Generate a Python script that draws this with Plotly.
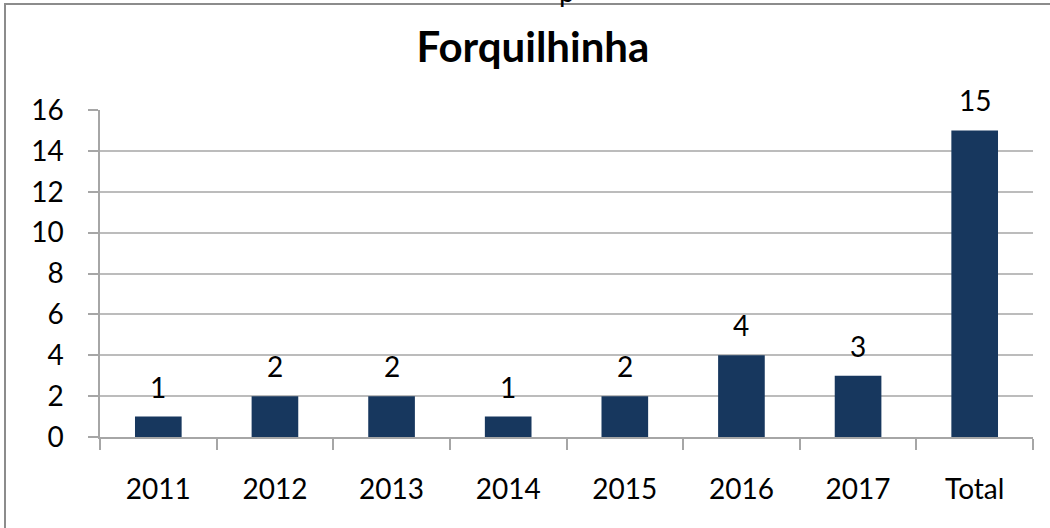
import plotly.graph_objects as go

categories = ["2011", "2012", "2013", "2014", "2015", "2016", "2017", "Total"]
values = [1, 2, 2, 1, 2, 4, 3, 15]
y_ticks = [0, 2, 4, 6, 8, 10, 12, 14, 16]
title_text = "Forquilhinha"

W, H = 1050, 528
L, R, T, B = 100, 1033, 110, 437  # plot area in px

def px_x(px):
    return (px - L) / (R - L)

def px_y(py):
    return (B - py) / (B - T)

BAR = "#17375E"
GRID = "#BCBCBC"
AXIS = "#A6A6A6"
FONT = "Lato"

fig = go.Figure(go.Bar(
    x=categories, y=values, marker=dict(color=BAR, line=dict(width=0)),
    width=0.4, hoverinfo="skip",
))

annotations = [
    dict(x=i, y=v, xref="x", yref="y", text=str(v), showarrow=False,
         yanchor="bottom", yshift=11, font=dict(family=FONT, size=28, color="#000000"))
    for i, v in enumerate(values)
]
# cut-off text fragment at the very top
annotations.append(dict(x=px_x(567), y=px_y(10), xref="paper", yref="paper", text="p",
                        showarrow=False, yanchor="bottom", xanchor="center",
                        font=dict(family=FONT, size=28, color="#000000")))

shapes = [
    # outer chart border
    dict(type="rect", xref="paper", yref="paper",
         x0=px_x(5), x1=px_x(1080), y0=px_y(560), y1=px_y(4),
         line=dict(color="#8C8C8C", width=2), fillcolor="rgba(0,0,0,0)", layer="above"),
    # y-axis line extension below zero
    dict(type="line", xref="paper", yref="paper",
         x0=0, x1=0, y0=px_y(437), y1=px_y(448),
         line=dict(color=AXIS, width=1.5)),
]

fig.update_layout(
    width=W, height=H,
    margin=dict(l=L, r=W - R, t=T, b=H - B, pad=0, autoexpand=False),
    paper_bgcolor="white", plot_bgcolor="white",
    showlegend=False,
    bargap=0.6,
    title=dict(text="<b>" + title_text + "</b>", xref="container", yref="container",
               x=533 / W, y=1 - 47 / H, xanchor="center", yanchor="middle",
               font=dict(family=FONT, size=42, color="#000000")),
    font=dict(family=FONT, size=28, color="#000000"),
    xaxis=dict(
        type="category", range=[-0.5, len(categories) - 0.5], automargin=False,
        showline=True, linecolor=AXIS, linewidth=1.5,
        ticks="outside", ticklen=11, tickcolor=AXIS, tickwidth=1.5,
        tickson="boundaries", showgrid=False, ticklabelstandoff=27, tickangle=0,
        tickfont=dict(family=FONT, size=28, color="#000000"),
    ),
    yaxis=dict(
        range=[0, 16], tickvals=y_ticks, automargin=False,
        showline=True, linecolor=AXIS, linewidth=1.5,
        ticks="outside", ticklen=10, tickcolor=AXIS, tickwidth=1.5,
        showgrid=True, gridcolor=GRID, gridwidth=1.5, zeroline=False,
        ticklabelstandoff=19,
        tickfont=dict(family=FONT, size=28, color="#000000"),
    ),
    annotations=annotations,
    shapes=shapes,
)

fig.write_html(
    "out.html",
    config={"displayModeBar": False},
    post_script="document.body.style.margin='0';document.body.style.overflow='hidden';",
)
